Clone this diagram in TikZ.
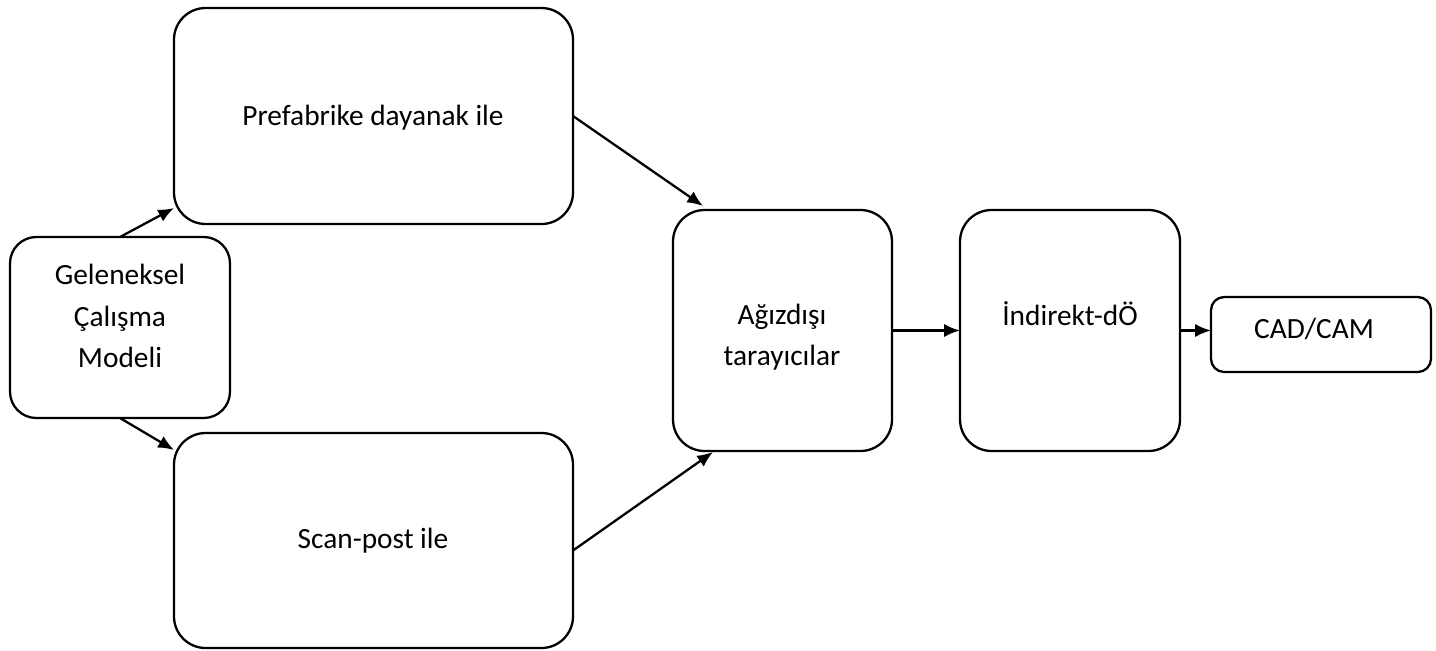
\documentclass[tikz,border=0pt]{standalone}
\usepackage{fontspec}
\setmainfont{Carlito}
\usetikzlibrary{arrows.meta,positioning,calc}
\tikzset{
     box/.style={draw, rectangle, line width=1.3pt, rounded corners=#1, outer sep=0pt, inner sep=0pt, anchor=north west},
     box/.default=18pt,
     flow/.style={line width=1.3pt, -{Latex[length=9pt,width=7.5pt]}},
     lbl/.style={align=center, inner sep=0pt, font=\fontsize{16.7}{23.5}\selectfont},
}
\def\ux{0.02cm}

\begin{document}
\begin{tikzpicture}[x=\ux, y=-\ux]
		\useasboundingbox (0,0) rectangle (1436,650);

		%% boxes
		\node[box=15pt, minimum width=220*\ux, minimum height=181*\ux] (gel) at (10,237) {};
		\node[box, minimum width=399*\ux, minimum height=216*\ux] (pre) at (174,8) {};
		\node[box, minimum width=399*\ux, minimum height=215*\ux] (scan) at (174,433) {};
		\node[box, minimum width=219*\ux, minimum height=241*\ux] (ag) at (673,210) {};
		\node[box, minimum width=220*\ux, minimum height=241*\ux] (ind) at (960,210) {};
		\node[box=7.5pt, minimum width=220*\ux, minimum height=75*\ux] (cad) at (1211,297) {};

		%% texts
		\node[lbl] (gel-t) at (120,316) {Geleneksel\\Çalışma\\Modeli};
		\node[lbl, anchor=base] (pre-t) at (373,125) {Prefabrike dayanak ile};
		\node[lbl, anchor=base] (scan-t) at (373,548) {Scan-post ile};
		\node[lbl] (ag-t) at (782,337) {Ağızdışı\\tarayıcılar};
		\node[lbl, anchor=base] (ind-t) at (1070,325) {İndirekt-dÖ};
		\node[lbl, anchor=base] (cad-t) at (1314,338) {CAD/CAM};

		%% arrows
		\draw[flow] (gel.north) -- ($(pre.south west)+(0,-16)$);
		\draw[flow] (gel.south) -- ($(scan.north west)+(0,17)$);
		\draw[flow] (pre.east) -- ($(ag.north west)+(30,-4)$);
		\draw[flow] ($(scan.east)+(0,10)$) -- ($(ag.south west)+(40,1)$);
		\draw[flow] (ag) -- (ind);
		\draw[flow] (ind.east) -- (ind.east -| cad.west);

		\end{tikzpicture}
\end{document}
